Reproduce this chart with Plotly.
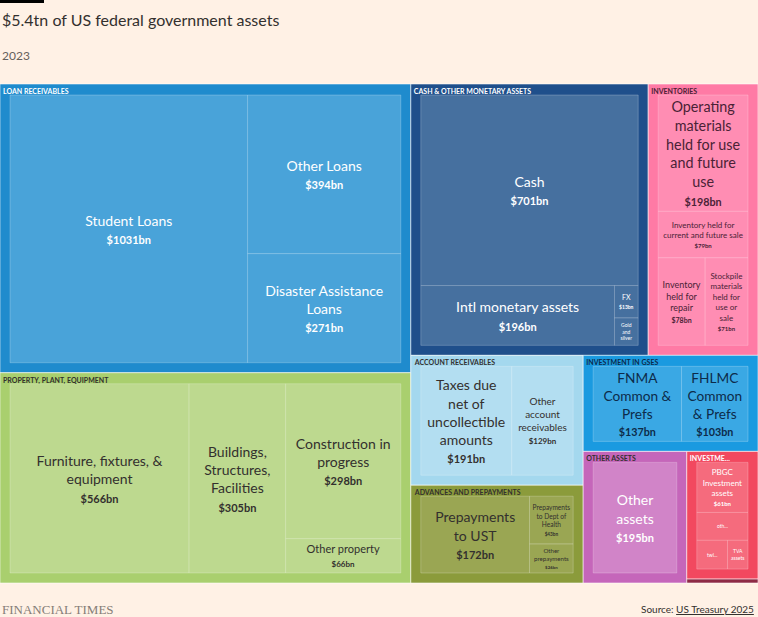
import plotly.graph_objects as go

# ---------------- data ----------------
groups = ["LOAN RECEIVABLES", "PROPERTY, PLANT, EQUIPMENT", "CASH & OTHER MONETARY ASSETS",
          "INVENTORIES", "ACCOUNT RECEIVABLES", "ADVANCES AND PREPAYMENTS",
          "INVESTMENT IN GSES", "OTHER ASSETS", "INVESTMENTS"]
group_headers = ["LOAN RECEIVABLES", "PROPERTY, PLANT, EQUIPMENT", "CASH & OTHER MONETARY ASSETS",
                 "INVENTORIES", "ACCOUNT RECEIVABLES", "ADVANCES AND PREPAYMENTS",
                 "INVESTMENT IN GSES", "OTHER ASSETS", "INVESTME..."]
group_colors = ["#1f8bcd", "#a9cf6e", "#1f4f8b", "#ff7aa5", "#a4d8ee", "#8b9b3b",
                "#1a9ae0", "#c566ba", "#f2485f"]
child_colors = ["#49a3d9", "#bdd98f", "#46709f", "#ff8db3", "#b3def1", "#9aa653",
                "#3aa8e4", "#d184c8", "#f56b7d"]
text_colors = ["#ffffff", "#33302e", "#ffffff", "#4a2236", "#33302e", "#33302e",
               "#0d2b4a", "#ffffff", "#ffffff"]
header_colors = ["#ffffff", "#33302e", "#ffffff", "#4a2236", "#33302e", "#33302e",
                 "#0d2b4a", "#33302e", "#ffffff"]

leaf_group = ["LOAN RECEIVABLES", "LOAN RECEIVABLES", "LOAN RECEIVABLES",
              "PROPERTY, PLANT, EQUIPMENT", "PROPERTY, PLANT, EQUIPMENT",
              "PROPERTY, PLANT, EQUIPMENT", "PROPERTY, PLANT, EQUIPMENT",
              "CASH & OTHER MONETARY ASSETS", "CASH & OTHER MONETARY ASSETS",
              "CASH & OTHER MONETARY ASSETS", "CASH & OTHER MONETARY ASSETS",
              "INVENTORIES", "INVENTORIES", "INVENTORIES", "INVENTORIES",
              "ACCOUNT RECEIVABLES", "ACCOUNT RECEIVABLES",
              "ADVANCES AND PREPAYMENTS", "ADVANCES AND PREPAYMENTS", "ADVANCES AND PREPAYMENTS",
              "INVESTMENT IN GSES", "INVESTMENT IN GSES",
              "OTHER ASSETS",
              "INVESTMENTS", "INVESTMENTS", "INVESTMENTS", "INVESTMENTS"]
leaf_labels = ["Student Loans", "Other Loans", "Disaster Assistance<br>Loans",
               "Furniture, fixtures, &<br>equipment", "Buildings,<br>Structures,<br>Facilities",
               "Construction in<br>progress", "Other property",
               "Cash", "Intl monetary assets", "FX", "Gold<br>and<br>silver",
               "Operating<br>materials<br>held for use<br>and future<br>use",
               "Inventory held for<br>current and future sale",
               "Inventory<br>held for<br>repair", "Stockpile<br>materials<br>held for<br>use or<br>sale",
               "Taxes due<br>net of<br>uncollectible<br>amounts", "Other<br>account<br>receivables",
               "Prepayments<br>to UST", "Prepayments<br>to Dept of<br>Health", "Other<br>prepayments",
               "FNMA<br>Common &<br>Prefs", "FHLMC<br>Common<br>& Prefs",
               "Other<br>assets",
               "PBGC<br>Investment<br>assets", "oth...", "twl...", "TVA<br>assets"]
leaf_values = [1031, 394, 271,
               566, 305, 298, 66,
               701, 196, 13, 11,
               198, 79, 78, 71,
               191, 129,
               172, 43, 26,
               137, 103,
               195,
               61, 34, 21, 14]
leaf_show_value = [True, True, True, True, True, True, True, True, True, True, False,
                   True, True, True, True, True, True, True, True, True, True, True, True,
                   True, False, False, False]
leaf_label_size = [14, 14, 14, 14, 14, 14, 11, 14, 14, 7, 5,
                   16, 8, 9, 8, 14, 10, 14, 7, 7, 14, 14, 14,
                   8, 5, 5, 5]
leaf_value_size = [11, 11, 11, 11, 11, 11, 8, 11, 11, 5, 5,
                   12, 6, 7, 6, 11, 8, 11, 5, 5, 11, 11, 11,
                   6, 5, 5, 5]

tiny_label = "OTHER"
tiny_value = 4
tiny_color = "#8e2b45"

# ---------------- build nodes ----------------
CLEAR = "rgba(0,0,0,0)"
ids, parents, values, colors, lcolors, lwidths = [], [], [], [], [], []
leaf_text, head_text, leaf_tcolors, head_tcolors, tsizes = [], [], [], [], []
leaf_tt, head_tt, leaf_lab, head_lab = [], [], [], []

for g, h, gc, hc in zip(groups, group_headers, group_colors, header_colors):
    hb = "<b>" + h + "</b>"
    ids.append(g); parents.append(""); values.append(0)
    colors.append(gc); lcolors.append("rgba(255,255,255,0.55)"); lwidths.append(1)
    leaf_text.append(""); head_text.append(hb)
    leaf_tt.append(""); head_tt.append("%{text}")
    leaf_lab.append(" "); head_lab.append(hb)
    leaf_tcolors.append(CLEAR); head_tcolors.append(hc); tsizes.append(7)

ids.append(tiny_label); parents.append(""); values.append(tiny_value)
colors.append(tiny_color); lcolors.append("rgba(255,255,255,0.55)"); lwidths.append(1)
leaf_text.append(""); head_text.append("")
leaf_tt.append(""); head_tt.append("")
leaf_lab.append(" "); head_lab.append(" ")
leaf_tcolors.append(CLEAR); head_tcolors.append(CLEAR); tsizes.append(5)

for i, (g, lab, v) in enumerate(zip(leaf_group, leaf_labels, leaf_values)):
    gi = groups.index(g)
    ids.append(g + "/" + lab); parents.append(g); values.append(v)
    colors.append(child_colors[gi]); lcolors.append("rgba(255,255,255,0.22)"); lwidths.append(1)
    t = lab
    if leaf_show_value[i]:
        t += "<br><b><span style='font-size:%dpx'>$%dbn</span></b>" % (leaf_value_size[i], v)
    leaf_text.append(t); head_text.append("")
    leaf_tt.append("%{text}"); head_tt.append("")
    leaf_lab.append(lab); head_lab.append(" ")
    leaf_tcolors.append(text_colors[gi]); head_tcolors.append(CLEAR)
    tsizes.append(leaf_label_size[i])

FONT = "Lato, 'Noto Sans', sans-serif"

# ---------------- geometry ----------------
# The implicit root of a multi-root treemap receives the marker padding, so the
# plotting area is made larger than the page and the page is shifted left.
PAD_L, PAD_T, PAD_R, PAD_B = 10, 11, 10, 10
HEAD_SHIFT_X = 7          # header overlay uses a smaller left pad
HEAD_EXTRA_T = 10         # header overlay uses a taller top pad (no text shrink)
TREE_TOP, TREE_BOTTOM = 84, 583      # window px of the visible treemap
PLOT_TOP = TREE_TOP - PAD_T - HEAD_EXTRA_T
PLOT_BOTTOM = TREE_BOTTOM + PAD_B
W = 758 + PAD_L + PAD_R + HEAD_SHIFT_X
H = 617
PLOT_H = PLOT_BOTTOM - PLOT_TOP


def px(xw):  # window x -> paper x
    return (xw + PAD_L) / W


def py(yw):  # window y -> paper y
    return 1 - (yw - PLOT_TOP) / PLOT_H


fig = go.Figure()
fig.add_trace(go.Treemap(
    ids=ids, labels=leaf_lab, parents=parents, values=values,
    branchvalues="remainder", sort=True,
    domain=dict(x=[0, (W - HEAD_SHIFT_X) / W], y=[0, (PLOT_H - HEAD_EXTRA_T) / PLOT_H]),
    text=leaf_text, texttemplate=leaf_tt, textposition="middle center",
    textfont=dict(family=FONT, color=leaf_tcolors, size=tsizes),
    marker=dict(colors=colors, line=dict(color=lcolors, width=lwidths),
                pad=dict(t=PAD_T, l=PAD_L, r=PAD_R, b=PAD_B), depthfade=False),
    tiling=dict(packing="binary", pad=0),
    pathbar=dict(visible=False), hoverinfo="value",
    root=dict(color=CLEAR),
))
fig.add_trace(go.Treemap(
    ids=ids, labels=head_lab, parents=parents, values=values,
    branchvalues="remainder", sort=True,
    domain=dict(x=[HEAD_SHIFT_X / W, 1], y=[PAD_B / PLOT_H, 1]),
    text=head_text, texttemplate=head_tt, textposition="top left",
    textfont=dict(family=FONT, color=head_tcolors, size=7),
    marker=dict(colors=[CLEAR] * len(ids), line=dict(width=0),
                pad=dict(t=PAD_T + HEAD_EXTRA_T, l=PAD_L - HEAD_SHIFT_X,
                         r=PAD_R + HEAD_SHIFT_X, b=0),
                depthfade=False),
    tiling=dict(packing="binary", pad=0),
    pathbar=dict(visible=False), hoverinfo="skip",
    root=dict(color=CLEAR),
))

fig.update_layout(
    width=W, height=H,
    margin=dict(l=0, r=0, t=PLOT_TOP, b=H - PLOT_BOTTOM),
    paper_bgcolor="#fff1e5", plot_bgcolor="#fff1e5",
    font=dict(family=FONT, color="#33302e"),
    showlegend=False,
    shapes=[dict(type="rect", xref="paper", yref="paper", x0=px(0), x1=px(44),
                 y0=py(3), y1=py(0), fillcolor="#000000", line=dict(width=0))],
    annotations=[
        dict(text="$5.4tn of US federal government assets", xref="paper", yref="paper",
             x=px(0), y=py(20), xanchor="left", yanchor="middle", showarrow=False,
             font=dict(size=16, color="#33302e", family=FONT)),
        dict(text="2023", xref="paper", yref="paper",
             x=px(0), y=py(55), xanchor="left", yanchor="middle", showarrow=False,
             font=dict(size=12, color="#66605c", family=FONT)),
        dict(text="FINANCIAL TIMES", xref="paper", yref="paper",
             x=px(0), y=py(609), xanchor="left", yanchor="middle", showarrow=False,
             font=dict(size=13, color="#857d77", family="'Liberation Serif', serif")),
        dict(text="Source: <u>US Treasury 2025</u>", xref="paper", yref="paper",
             x=px(756), y=py(609), xanchor="right", yanchor="middle", showarrow=False,
             font=dict(size=10, color="#33302e", family=FONT)),
    ],
)

post = ("document.documentElement.style.overflow='hidden';"
        "document.body.style.overflow='hidden';"
        "document.body.style.margin='0 0 0 -%dpx';" % PAD_L)
fig.write_html("out.html", post_script=post, config={"displayModeBar": False})
